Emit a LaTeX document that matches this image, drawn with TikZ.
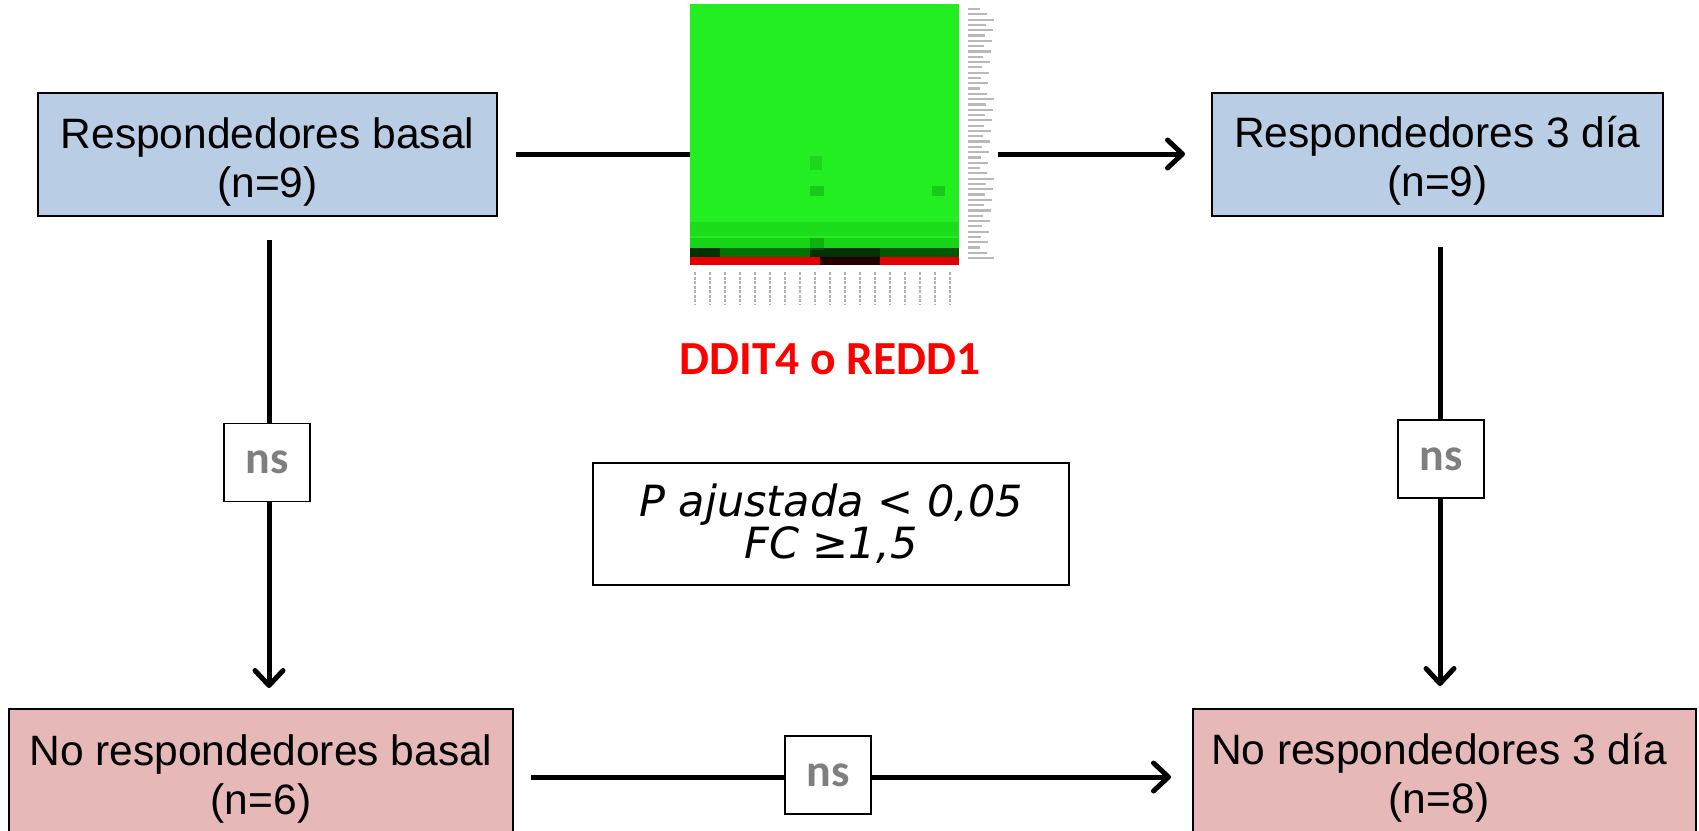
\documentclass[tikz,border=0pt]{standalone}
\usepackage{fontspec}
\setmainfont{Liberation Sans}
\newfontfamily\calib{Carlito}
\newfontfamily\dejavu{DejaVu Sans}
\usetikzlibrary{arrows.meta}
\definecolor{boxblue}{RGB}{185,205,229}
\definecolor{boxpink}{RGB}{230,185,184}
\definecolor{heatgreen}{RGB}{34,238,34}
\definecolor{nsgray}{RGB}{127,127,127}
\definecolor{ddred}{RGB}{255,0,0}
\tikzset{
  grpbox/.style={draw=black, line width=1.5pt, minimum width=459pt, minimum height=123pt, inner sep=0pt},
  grptext/.style={align=center, font=\fontsize{42.5}{49}\selectfont, inner sep=0pt},
  nsbox/.style={draw=black, fill=white, line width=1.5pt, minimum width=86pt, minimum height=78pt, inner sep=0pt, font=\calib\bfseries\fontsize{46}{46}\selectfont, text=nsgray},
  critbox/.style={draw=black, fill=white, line width=1.5pt, minimum width=476pt, minimum height=122pt, inner sep=0pt, align=center, font=\dejavu\itshape\fontsize{43}{42}\selectfont},
  conn/.style={line width=5pt},
  arr/.style={conn, -{Straight Barb[length=15pt,width=28pt,round]}},
  hlab/.style={line width=2.2pt, gray!55},
}
\begin{document}
\begin{tikzpicture}[x=1pt,y=-1pt]
\clip (0,0) rectangle (1699,830);
\fill[white] (0,0) rectangle (1699,830);

% group boxes
\node[grpbox, fill=boxblue] (tl) at (267.5,154.5) {};
\node[grptext] (tlt) at (267.5,162) {Respondedores basal\\(n=9)};
\node[grpbox, fill=boxblue, minimum width=451pt] (tr) at (1437.5,154.5) {};
\node[grptext] (trt) at (1437.5,161) {Respondedores 3 día\\(n=9)};
\node[grpbox, fill=boxpink, minimum width=504pt, minimum height=128pt] (bl) at (261,773) {};
\node[grptext] (blt) at (261,779) {No respondedores basal\\(n=6)};
\node[grpbox, fill=boxpink, minimum width=503pt, minimum height=128pt] (br) at (1444.5,773) {};
\node[grptext] (brt) at (1439,778) {No respondedores 3 día\\(n=8)};

% heatmap
\node[fill=heatgreen, minimum width=269pt, minimum height=244pt, inner sep=0pt, anchor=north west] (heat) at (690,4) {};
\fill[green!60!black, opacity=0.3] (690,238) rectangle (959,248);
\fill[black!80!green] (690,248) rectangle (959,257);
\fill[green!45!black] (720,248) rectangle (810,257);
\fill[green!35!black] (880,248) rectangle (959,257);
\fill[red!90!black] (690,257) rectangle (959,265);
\fill[black!85!red] (820,257) rectangle (880,265);
\fill[green!50!black, opacity=0.3] (810,186) rectangle (824,196);
\fill[green!50!black, opacity=0.3] (932,186) rectangle (945,196);
\fill[green!50!black, opacity=0.2] (810,156) rectangle (822,170);
\fill[green!50!black, opacity=0.15] (690,222) rectangle (959,236);
\fill[green!50!black, opacity=0.4] (810,238) rectangle (824,250);
\foreach \i in {0,...,47} {
  \pgfmathsetmacro{\yy}{9+\i*5.3}
  \pgfmathsetmacro{\ll}{12+mod(\i*7,15)}
  \draw[hlab] (968,\yy) -- ++(\ll,0);
}
\foreach \i in {0,...,17} {
  \draw[line width=2pt, gray!60, dash pattern=on 3pt off 1.5pt] (695+15*\i,272) -- (695+15*\i,304);
}
\node[font=\calib\bfseries\fontsize{47.5}{47.5}\selectfont, text=ddred, inner sep=0pt] (gene) at (830,359) {DDIT4 o REDD1};

% free ends of connectors
\coordinate (h1) at (516,154);
\coordinate (h2) at (998,154);
\coordinate (h3) at (1185,154);
\coordinate (v1) at (269,240);
\coordinate (v2) at (269,688);
\coordinate (v3) at (1440,247);
\coordinate (v4) at (1440,686);
\coordinate (b1) at (531,777);
\coordinate (b2) at (1171,777);

% connectors
\draw[conn] (h1) -- (h1 -| heat.west);
\draw[arr] (h2) -- (h3);
\draw[arr] (v1) -- (v2);
\draw[arr] (v3) -- (v4);
\draw[arr] (b1) -- (b2);

% ns labels and criteria
\node[nsbox] (ns1) at (267,462.5) {ns};
\node[nsbox] (ns2) at (1441,459) {ns};
\node[nsbox] (ns3) at (828,775) {ns};
\node[critbox] (crit) at (831,524) {P ajustada < 0,05\\FC ≥1,5};
\end{tikzpicture}
\end{document}
